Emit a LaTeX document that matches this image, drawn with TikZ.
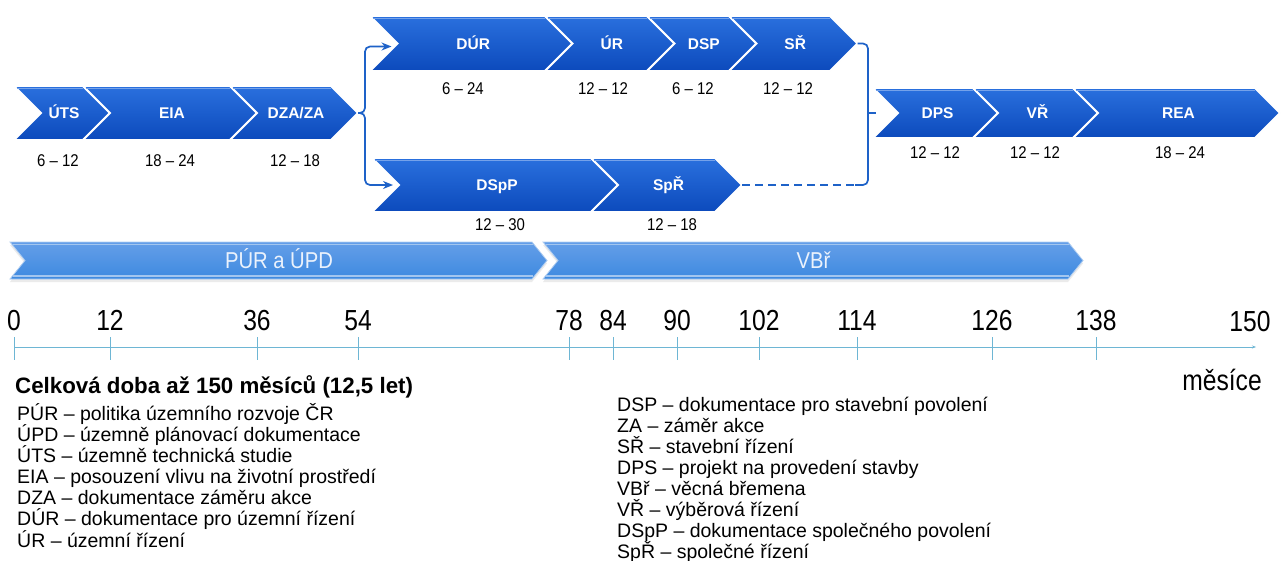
\documentclass[tikz,border=0pt]{standalone}
\usepackage{fontspec}
\setmainfont{Liberation Sans}
\usepackage{graphicx}
\usetikzlibrary{arrows.meta,calc}
\definecolor{chevtop}{RGB}{42,112,222}
\definecolor{chevbot}{RGB}{12,74,188}
\definecolor{conncol}{RGB}{30,98,200}
\definecolor{bartop}{RGB}{100,158,232}
\definecolor{barmid}{RGB}{50,128,220}
\definecolor{barbot}{RGB}{62,138,224}
\definecolor{axiscol}{RGB}{110,182,212}
\definecolor{bartxt}{RGB}{235,242,252}
\newcommand\nx[1]{\scalebox{0.88}[1]{#1}}
\newcommand\tx[1]{\scalebox{0.85}[1]{#1}}
\newcommand\chev[6]{%
  \pgfmathsetmacro\cy{(#4+#5)/2}%
  \pgfmathsetmacro\dd{(#5-#4)/2}%
  \pgfmathsetmacro\tipx{#3+\dd}%
  \pgfmathsetmacro\notx{#2+\dd}%
  \path[chevshape] (#2,#4) -- (#3,#4) -- (\tipx,\cy) -- (#3,#5) -- (#2,#5) -- (\notx,\cy) -- cycle;
  \draw[chevhl] ({#2+3},{#4+2}) -- ({#3},{#4+2});
  \coordinate (#1-tip) at (\tipx,\cy);
  \coordinate (#1-notch) at (\notx,\cy);
  \node[chevtext] (#1) at ({(\notx+#3)/2+2},\cy) {#6};
}
\newcommand\pbar[7]{%
  \pgfmathsetmacro\cy{(#4+#5)/2}%
  \pgfmathsetmacro\tipx{#3+#6}%
  \pgfmathsetmacro\notx{#2+#6}%
  \fill[black!8] (#2,#4+3) -- (#3,#4+3) -- (\tipx,\cy+3) -- (#3,#5+3) -- (#2,#5+3) -- (\notx,\cy+3) -- cycle;
  \path[barshape] (#2,#4) -- (#3,#4) -- (\tipx,\cy) -- (#3,#5) -- (#2,#5) -- (\notx,\cy) -- cycle;
  \draw[barhl] ({#2+3},{#4+2.5}) -- ({#3+1},{#4+2.5});
  \draw[barhl] ({#2+3},{#5-3}) -- ({#3+1},{#5-3});
  \node[bartext] (#1) at ({(#2+#3)/2+8},\cy) {\nx{#7}};
}
\tikzset{
  chevshape/.style={top color=chevtop, bottom color=chevbot, draw=white, line width=1.8pt, line join=miter},
  chevhl/.style={draw=white!35!chevtop, line width=1pt},
  chevtext/.style={text=white, font=\fontsize{15.5}{18}\selectfont\bfseries, inner sep=0pt, text height=11pt, text depth=0pt},
  durtext/.style={text=black, font=\fontsize{17}{20}\selectfont, inner sep=0pt, text height=12pt, text depth=0pt},
  barshape/.style={top color=bartop, middle color=barmid, bottom color=barbot, draw=white!60!barmid, line width=0.8pt},
  barhl/.style={draw=white!55!barmid, line width=1.2pt},
  bartext/.style={text=bartxt, font=\fontsize{23}{26}\selectfont, inner sep=0pt, text height=16pt, text depth=0pt},
  conn/.style={draw=conncol, line width=1.7pt},
  axisline/.style={draw=axiscol, line width=0.9pt},
  axnum/.style={text=black, font=\fontsize{29}{32}\selectfont, inner sep=0pt, text height=21pt, text depth=0pt},
  legline/.style={anchor=west, text=black, font=\fontsize{19.5}{22}\selectfont, inner sep=0pt, text height=14pt, text depth=0pt},
  legtitle/.style={anchor=west, text=black, font=\fontsize{22.3}{25}\selectfont\bfseries, inner sep=0pt, text height=16pt, text depth=0pt},
}
\begin{document}
\begin{tikzpicture}[x=1pt,y=-1pt]
\useasboundingbox (0,0) rectangle (1282,560);
\fill[white] (0,0) rectangle (1282,560);

% row 1
\chev{uts}{14}{83}{86}{140}{ÚTS}
\chev{eia}{83}{230}{86}{140}{EIA}
\chev{dza}{230}{331}{86}{140}{DZA/ZA}
% row 2 top
\chev{dur}{370}{545}{16}{71}{DÚR}
\chev{ur}{545}{647}{16}{71}{ÚR}
\chev{dsp}{647}{729}{16}{71}{DSP}
\chev{sr}{729}{830}{16}{71}{SŘ}
% row 2 bottom
\chev{dspp}{372}{591}{158}{212}{DSpP}
\chev{spr}{591}{715}{158}{212}{SpŘ}
% row 3
\chev{dps}{873}{973}{88}{138}{DPS}
\chev{vr}{973}{1073}{88}{138}{VŘ}
\chev{rea}{1073}{1255}{88}{138}{REA}

% durations
\node[durtext] (d-uts) at (58,160) {\nx{6 – 12}};
\node[durtext] (d-eia) at (170,160) {\nx{18 – 24}};
\node[durtext] (d-dza) at (295,160) {\nx{12 – 18}};
\node[durtext] (d-dur) at (463,88) {\nx{6 – 24}};
\node[durtext] (d-ur) at (603,88) {\nx{12 – 12}};
\node[durtext] (d-dsp) at (693,88) {\nx{6 – 12}};
\node[durtext] (d-sr) at (788,88) {\nx{12 – 12}};
\node[durtext] (d-dspp) at (500,224) {\nx{12 – 30}};
\node[durtext] (d-spr) at (672,224) {\nx{12 – 18}};
\node[durtext] (d-dps) at (935,152) {\nx{12 – 12}};
\node[durtext] (d-vr) at (1035,152) {\nx{12 – 12}};
\node[durtext] (d-rea) at (1180,152) {\nx{18 – 24}};

% connectors
\coordinate (lb) at (365,113);
\coordinate (dur-in) at ($(dur-notch)+(-6,3)$);
\coordinate (dspp-in) at ($(dspp-notch)+(-6,0)$);
\draw[conn, rounded corners=5, -{Stealth[length=10pt,width=8pt]}] (dza-tip) -- (lb) |- (dur-in);
\draw[conn, rounded corners=5, -{Stealth[length=10pt,width=8pt]}] (dza-tip) -- (lb) |- (dspp-in);
\coordinate (rb) at (868,113);
\coordinate (rbl) at (855,185);
\coordinate (dps-in) at (876,113);
\draw[conn, rounded corners=5] (sr-tip) -| (rb) |- (rbl);
\draw[conn] (rb) -- (dps-in);
\draw[conn, dash pattern=on 8pt off 5pt] (spr-tip) -- (rbl);

% phase bars
\pbar{pur}{10}{532}{242}{279}{15}{PÚR a ÚPD}
\pbar{vbr}{543}{1068}{242}{279}{15}{VBř}

% time axis
\coordinate (ax0) at (14,347);
\coordinate (axend) at (1256,347);
\draw[axisline, -{Stealth[length=4pt,width=3pt]}] (ax0) -- (axend);
\foreach \m/\x in {0/14,12/110,36/257,54/358,78/569,84/613,90/677,102/759,114/857,126/992,138/1096}{
  \draw[axisline] (\x,337) -- (\x,360);
  \node[axnum] (n\m) at (\x,320) {\tx{\m}};
}
\node[axnum] (n150) at (1250,321) {\tx{150}};
\node[axnum] (mesice) at (1222,380) {\tx{měsíce}};

% legend
\node[legtitle] (title) at (15,385) {Celková doba až 150 měsíců (12,5 let)};
\foreach \t [count=\i] in {PÚR – politika územního rozvoje ČR, ÚPD – územně plánovací dokumentace, ÚTS – územně technická studie, EIA – posouzení vlivu na životní prostředí, DZA – dokumentace záměru akce, DÚR – dokumentace pro územní řízení, ÚR – územní řízení}{
  \node[legline] (L\i) at (17,{413+21.17*(\i-1)}) {\t};
}
\foreach \t [count=\i] in {DSP – dokumentace pro stavební povolení, ZA – záměr akce, SŘ – stavební řízení, DPS – projekt na provedení stavby, VBř – věcná břemena, VŘ – výběrová řízení, DSpP – dokumentace společného povolení, SpŘ – společné řízení}{
  \node[legline] (R\i) at (617,{404.5+21*(\i-1)}) {\t};
}
\end{tikzpicture}
\end{document}
